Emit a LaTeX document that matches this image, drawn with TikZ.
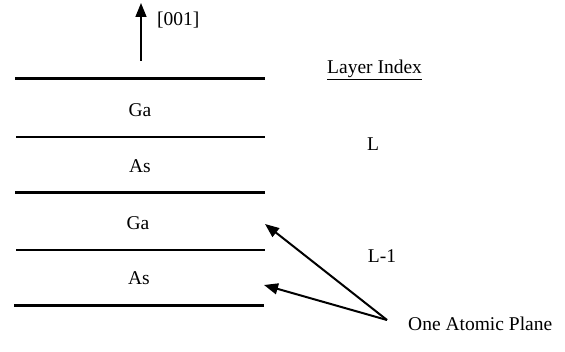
\documentclass[tikz,border=0pt]{standalone}
\usepackage{fontspec}
\setmainfont{Liberation Serif}
\usetikzlibrary{arrows.meta}
\begin{document}
\begin{tikzpicture}[x=1pt,y=-1pt,
  thickline/.style={line width=3pt},
  thinline/.style={line width=1.5pt},
  lbl/.style={font=\fontsize{19.5}{22}\selectfont, inner sep=0pt},
  ptr/.style={line width=2pt,-{Triangle[length=14pt,width=11pt]}}]
\useasboundingbox (0,0) rectangle (565,352);
\coordinate (l1a) at (15,79);  \coordinate (l1b) at (265,79);
\coordinate (l2a) at (16,137); \coordinate (l2b) at (265,137);
\coordinate (l3a) at (15,193); \coordinate (l3b) at (265,193);
\coordinate (l4a) at (16,250); \coordinate (l4b) at (265,250);
\coordinate (l5a) at (14,306); \coordinate (l5b) at (264,306);
\draw[thickline] (l1a) -- (l1b);
\draw[thinline] (l2a) -- (l2b);
\draw[thickline] (l3a) -- (l3b);
\draw[thinline] (l4a) -- (l4b);
\draw[thickline] (l5a) -- (l5b);
\node[lbl] (ga1) at (140,110) {Ga};
\node[lbl] (as1) at (140,166) {As};
\node[lbl] (ga2) at (138,223) {Ga};
\node[lbl] (as2) at (139,278) {As};
\coordinate (dirs) at (141,61);
\coordinate (dirt) at (141,3);
\draw[line width=1.5pt,-{Triangle[length=14pt,width=11pt]}] (dirs) -- (dirt);
\node[lbl, anchor=west] (dir) at (157,20) {[001]};
\node[lbl, anchor=west] (li) at (327,70) {\underline{Layer Index}};
\node[lbl] (L) at (373,144) {L};
\node[lbl] (L1) at (382,256) {L-1};
\node[lbl, anchor=west] (oap) at (408,324) {One Atomic Plane};
\coordinate (tip) at (387,320);
\coordinate (t1) at (265,224);
\coordinate (t2) at (264,285);
\draw[ptr] (tip) -- (t1);
\draw[ptr] (tip) -- (t2);
\end{tikzpicture}
\end{document}
